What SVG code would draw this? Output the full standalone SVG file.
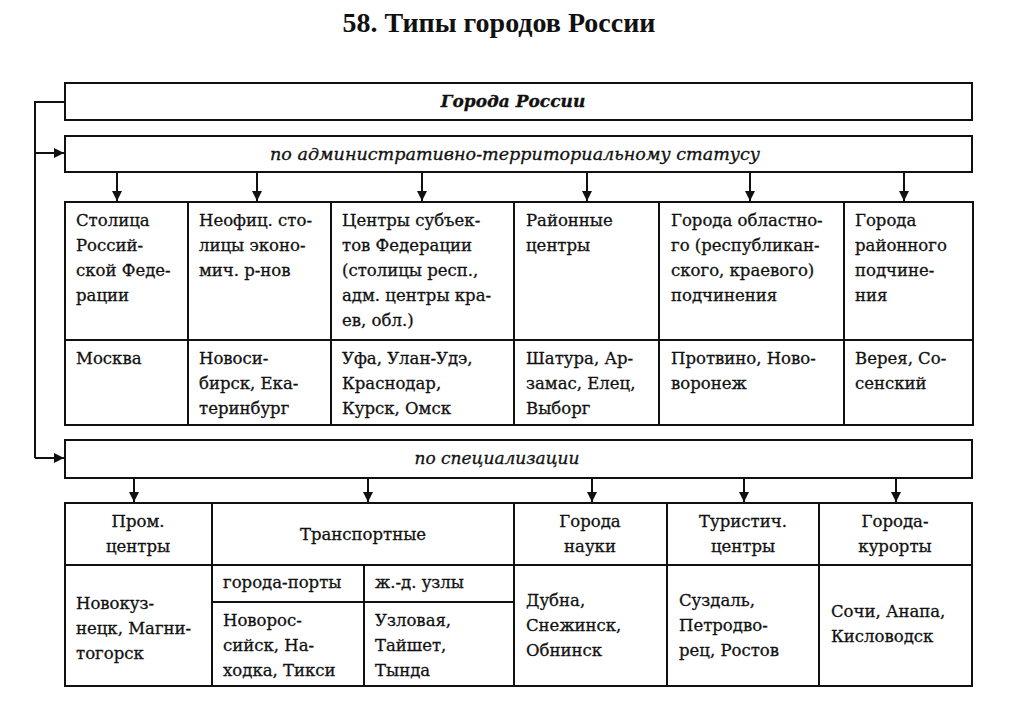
<svg xmlns="http://www.w3.org/2000/svg" width="1024" height="723" viewBox="0 0 1024 723">
<defs>
<style>
.box{fill:#fff;stroke:#111;stroke-width:2}
.ln{fill:none;stroke:#111;stroke-width:2}
.t{font-family:"DejaVu Serif","Liberation Serif",serif;font-size:16.5px;fill:#111;stroke:#111;stroke-width:0.3}
.c{text-anchor:middle}
.hi{font-family:"DejaVu Serif","Liberation Serif",serif;font-style:italic;font-size:17px;fill:#111;stroke:#111;stroke-width:0.3}
.title{font-family:"Liberation Serif",serif;font-weight:bold;font-size:28px;fill:#111}
</style>
<marker id="ah" viewBox="0 0 10 10" refX="10" refY="5" markerWidth="5" markerHeight="5" orient="auto" markerUnits="strokeWidth">
<path d="M0,0 L10,5 L0,10 z" fill="#111"/>
</marker>
</defs>
<rect width="1024" height="723" fill="#fff"/>
<text class="title c" x="499" y="32">58. Типы городов России</text>

<g id="root">
<rect class="box" x="65" y="83" width="907" height="37"/>
<text class="hi c" x="513" y="107" font-weight="bold">Города России</text>
</g>
<g id="admin">
<rect class="box" x="65" y="136" width="907" height="36"/>
<text class="hi c" x="515" y="160" textLength="490" lengthAdjust="spacingAndGlyphs">по административно-территориальному статусу</text>
</g>
<g id="spec">
<rect class="box" x="65" y="440" width="907" height="38"/>
<text class="hi c" x="497" y="464">по специализации</text>
</g>

<g id="connectors">
<path class="ln" d="M65,102 H35 V458"/>
<path class="ln" d="M35,153 H64" marker-end="url(#ah)"/>
<path class="ln" d="M35,458 H64" marker-end="url(#ah)"/>
<path class="ln" d="M117,172 V201" marker-end="url(#ah)"/>
<path class="ln" d="M257,172 V201" marker-end="url(#ah)"/>
<path class="ln" d="M422,172 V201" marker-end="url(#ah)"/>
<path class="ln" d="M587,172 V201" marker-end="url(#ah)"/>
<path class="ln" d="M750,172 V201" marker-end="url(#ah)"/>
<path class="ln" d="M904,172 V201" marker-end="url(#ah)"/>
<path class="ln" d="M134,478 V502" marker-end="url(#ah)"/>
<path class="ln" d="M368,478 V502" marker-end="url(#ah)"/>
<path class="ln" d="M592,478 V502" marker-end="url(#ah)"/>
<path class="ln" d="M744,478 V502" marker-end="url(#ah)"/>
<path class="ln" d="M896,478 V502" marker-end="url(#ah)"/>
</g>

<g id="table-admin">
<rect class="box" x="65" y="202" width="908" height="223"/>
<path class="ln" d="M65,340 H973 M188,202 V425 M331,202 V425 M514,202 V425 M659,202 V425 M844,202 V425"/>
</g>
<g id="col-capital">
<text class="t" x="76" y="226">Столица</text>
<text class="t" x="76" y="251">Россий-</text>
<text class="t" x="76" y="276">ской Феде-</text>
<text class="t" x="76" y="301">рации</text>
<text class="t" x="76" y="364">Москва</text>
</g>
<g id="col-unofficial">
<text class="t" x="199" y="226">Неофиц. сто-</text>
<text class="t" x="199" y="251">лицы эконо-</text>
<text class="t" x="199" y="276">мич. р-нов</text>
<text class="t" x="199" y="364">Новоси-</text>
<text class="t" x="199" y="389">бирск, Ека-</text>
<text class="t" x="199" y="414">теринбург</text>
</g>
<g id="col-subjects">
<text class="t" x="342" y="226">Центры субъек-</text>
<text class="t" x="342" y="251">тов Федерации</text>
<text class="t" x="342" y="276">(столицы респ.,</text>
<text class="t" x="342" y="301">адм. центры кра-</text>
<text class="t" x="342" y="326">ев, обл.)</text>
<text class="t" x="342" y="364">Уфа, Улан-Удэ,</text>
<text class="t" x="342" y="389">Краснодар,</text>
<text class="t" x="342" y="414">Курск, Омск</text>
</g>
<g id="col-district">
<text class="t" x="526" y="226">Районные</text>
<text class="t" x="526" y="251">центры</text>
<text class="t" x="526" y="364">Шатура, Ар-</text>
<text class="t" x="526" y="389">замас, Елец,</text>
<text class="t" x="526" y="414">Выборг</text>
</g>
<g id="col-regional">
<text class="t" x="671" y="226">Города областно-</text>
<text class="t" x="671" y="251">го (республикан-</text>
<text class="t" x="671" y="276">ского, краевого)</text>
<text class="t" x="671" y="301">подчинения</text>
<text class="t" x="671" y="364">Протвино, Ново-</text>
<text class="t" x="671" y="389">воронеж</text>
</g>
<g id="col-districtsub">
<text class="t" x="855" y="226">Города</text>
<text class="t" x="855" y="251">районного</text>
<text class="t" x="855" y="276">подчине-</text>
<text class="t" x="855" y="301">ния</text>
<text class="t" x="855" y="364">Верея, Со-</text>
<text class="t" x="855" y="389">сенский</text>
</g>

<g id="table-spec">
<rect class="box" x="65" y="503" width="907" height="183"/>
<path class="ln" d="M65,565 H972 M212,503 V686 M514,503 V686 M667,503 V686 M819,503 V686 M212,602 H514 M364,565 V686"/>
</g>
<g id="col-industrial">
<text class="t c" x="138" y="527">Пром.</text>
<text class="t c" x="138" y="552">центры</text>
<text class="t" x="76" y="609">Новокуз-</text>
<text class="t" x="76" y="634">нецк, Магни-</text>
<text class="t" x="76" y="659">тогорск</text>
</g>
<g id="col-transport">
<text class="t c" x="363" y="540">Транспортные</text>
<text class="t" x="223" y="588">города-порты</text>
<text class="t" x="375" y="588">ж.-д. узлы</text>
<text class="t" x="223" y="626">Новорос-</text>
<text class="t" x="223" y="651">сийск, На-</text>
<text class="t" x="223" y="676">ходка, Тикси</text>
<text class="t" x="375" y="626">Узловая,</text>
<text class="t" x="375" y="651">Тайшет,</text>
<text class="t" x="375" y="676">Тында</text>
</g>
<g id="col-science">
<text class="t c" x="590" y="527">Города</text>
<text class="t c" x="590" y="552">науки</text>
<text class="t" x="526" y="606">Дубна,</text>
<text class="t" x="526" y="631">Снежинск,</text>
<text class="t" x="526" y="656">Обнинск</text>
</g>
<g id="col-tourist">
<text class="t c" x="743" y="527">Туристич.</text>
<text class="t c" x="743" y="552">центры</text>
<text class="t" x="679" y="606">Суздаль,</text>
<text class="t" x="679" y="631">Петродво-</text>
<text class="t" x="679" y="656">рец, Ростов</text>
</g>
<g id="col-resort">
<text class="t c" x="895" y="527">Города-</text>
<text class="t c" x="895" y="552">курорты</text>
<text class="t" x="831" y="617">Сочи, Анапа,</text>
<text class="t" x="831" y="642">Кисловодск</text>
</g>
</svg>
